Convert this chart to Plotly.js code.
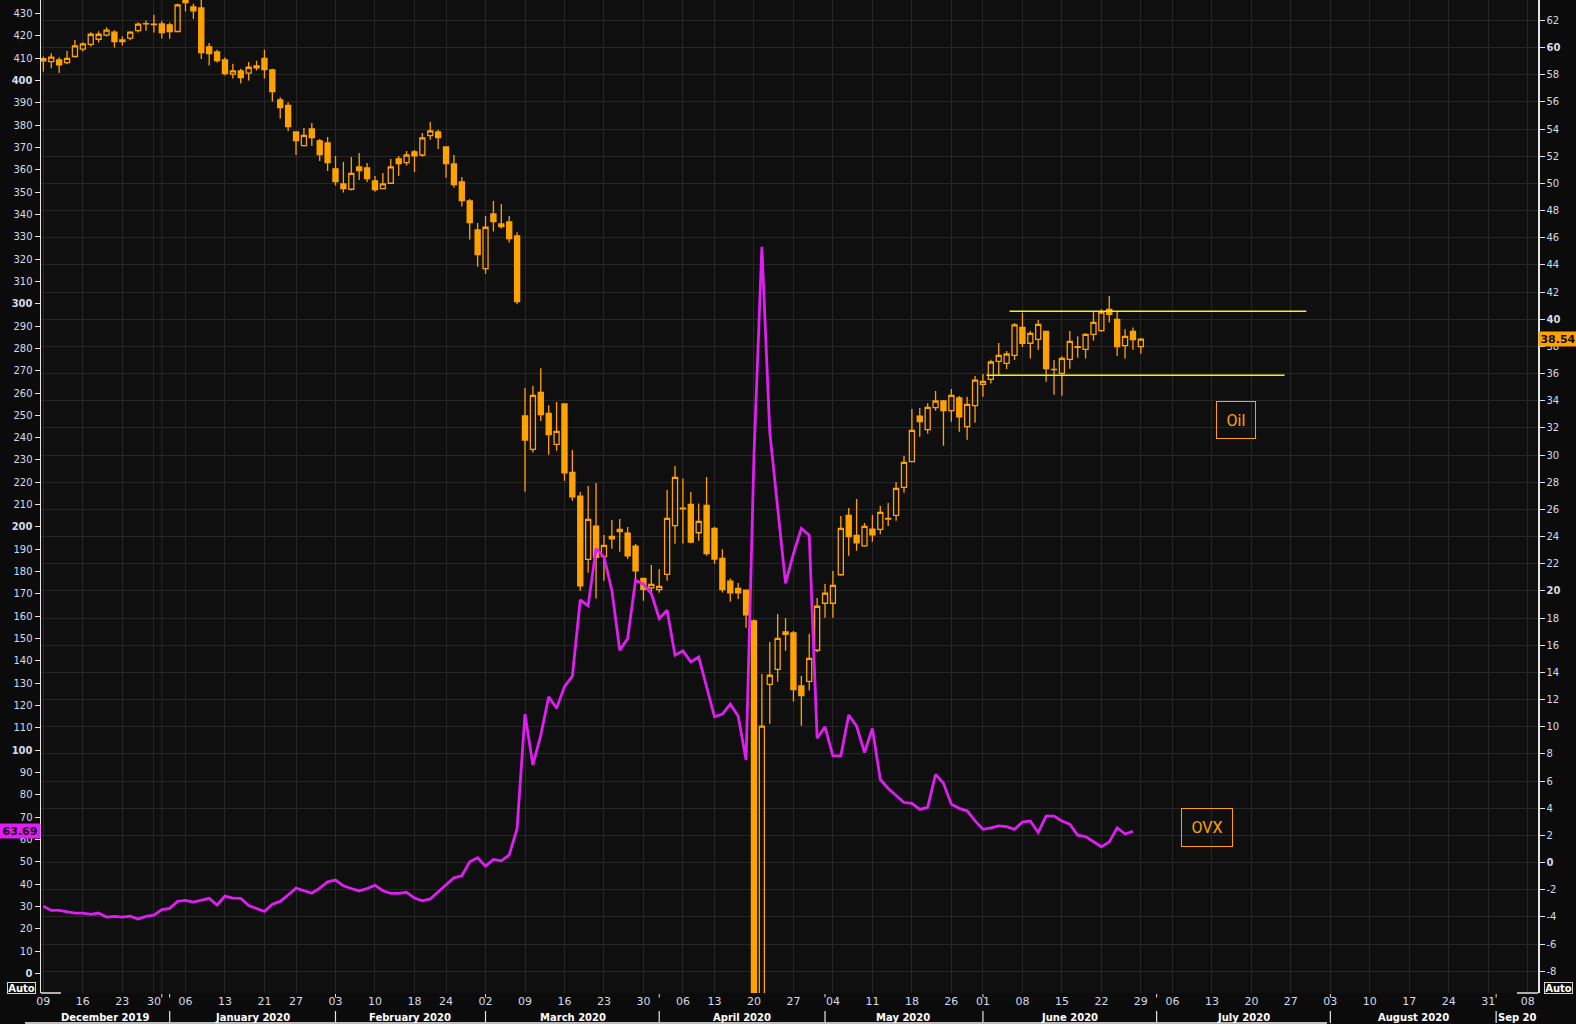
<!DOCTYPE html>
<html><head><meta charset="utf-8">
<script src="https://cdn.plot.ly/plotly-3.0.1.min.js"></script>
<style>html,body{margin:0;padding:0;background:#0b0b0b;overflow:hidden}#chart{width:1576px;height:1024px}</style>
</head><body><div id="chart"></div>
<script>
// ---------- DATA ----------
const dates = [
'2019-12-09','2019-12-10','2019-12-11','2019-12-12','2019-12-13','2019-12-16','2019-12-17','2019-12-18','2019-12-19','2019-12-20','2019-12-23','2019-12-24','2019-12-26','2019-12-27','2019-12-30','2019-12-31',
'2020-01-02','2020-01-03','2020-01-06','2020-01-07','2020-01-08','2020-01-09','2020-01-10','2020-01-13','2020-01-14','2020-01-15','2020-01-16','2020-01-17','2020-01-21','2020-01-22','2020-01-23','2020-01-24','2020-01-27','2020-01-28','2020-01-29','2020-01-30','2020-01-31',
'2020-02-03','2020-02-04','2020-02-05','2020-02-06','2020-02-07','2020-02-10','2020-02-11','2020-02-12','2020-02-13','2020-02-14','2020-02-18','2020-02-19','2020-02-20','2020-02-21','2020-02-24','2020-02-25','2020-02-26','2020-02-27','2020-02-28',
'2020-03-02','2020-03-03','2020-03-04','2020-03-05','2020-03-06','2020-03-09','2020-03-10','2020-03-11','2020-03-12','2020-03-13','2020-03-16','2020-03-17','2020-03-18','2020-03-19','2020-03-20','2020-03-23','2020-03-24','2020-03-25','2020-03-26','2020-03-27','2020-03-30','2020-03-31',
'2020-04-01','2020-04-02','2020-04-03','2020-04-06','2020-04-07','2020-04-08','2020-04-09','2020-04-13','2020-04-14','2020-04-15','2020-04-16','2020-04-17','2020-04-20','2020-04-21','2020-04-22','2020-04-23','2020-04-24','2020-04-27','2020-04-28','2020-04-29','2020-04-30',
'2020-05-01','2020-05-04','2020-05-05','2020-05-06','2020-05-07','2020-05-08','2020-05-11','2020-05-12','2020-05-13','2020-05-14','2020-05-15','2020-05-18','2020-05-19','2020-05-20','2020-05-21','2020-05-22','2020-05-26','2020-05-27','2020-05-28','2020-05-29',
'2020-06-01','2020-06-02','2020-06-03','2020-06-04','2020-06-05','2020-06-08','2020-06-09','2020-06-10','2020-06-11','2020-06-12','2020-06-15','2020-06-16','2020-06-17','2020-06-18','2020-06-19','2020-06-22','2020-06-23','2020-06-24','2020-06-25','2020-06-26','2020-06-29'
];
const oilOpen = [
59.19,58.97,59.09,58.89,59.34,59.88,60.24,60.61,60.91,61.13,60.56,60.69,61.25,61.74,61.72,61.74,
61.67,61.18,63.71,62.99,62.92,60.05,59.68,59.09,58.04,58.28,58.11,58.65,59.21,58.35,56.15,55.75,53.79,52.78,54.01,53.13,52.98,
51.06,49.96,49.57,51.21,51.14,50.18,49.61,50.01,51.80,51.53,52.32,52.09,53.52,53.79,52.68,51.43,50.11,48.71,46.57,
43.72,47.75,47.01,47.16,46.13,32.88,30.42,34.62,33.07,30.79,33.76,28.73,26.98,22.32,24.77,22.52,23.84,24.36,24.26,23.30,20.92,20.23,
20.09,21.21,24.80,26.10,26.37,24.28,26.30,24.60,22.39,20.72,20.18,20.06,17.79,-14.00,13.12,14.23,16.81,16.90,13.00,13.34,15.63,
19.09,19.09,21.19,25.56,24.08,23.32,24.55,24.53,25.29,25.56,27.62,29.51,32.87,31.87,33.49,33.98,33.27,34.20,32.09,33.64,
35.21,35.57,36.90,36.75,37.34,39.40,38.23,38.52,39.11,36.31,36.02,37.05,37.98,37.78,38.89,39.16,40.73,39.99,38.05,39.11,37.98
];
const oilHigh = [
59.34,59.58,59.29,59.75,60.56,60.39,61.13,61.20,61.50,61.28,60.81,61.20,61.87,61.99,62.41,61.96,
61.84,63.25,64.72,63.22,64.00,60.34,59.83,59.29,58.80,58.43,58.94,59.02,59.83,58.43,56.34,55.97,53.81,54.08,54.45,53.27,53.42,
52.02,51.58,51.95,52.24,51.50,50.55,50.77,51.80,52.02,52.39,52.46,53.71,54.52,53.94,52.71,52.09,50.47,48.85,47.09,
47.60,48.71,48.49,47.60,46.40,34.94,35.09,36.39,33.66,33.91,33.78,30.37,27.28,27.72,27.94,24.11,25.22,25.29,24.70,23.45,20.94,21.90,
21.61,27.43,29.19,28.28,27.28,26.44,28.38,24.73,23.06,20.92,20.58,20.09,17.90,13.88,16.24,18.30,18.01,17.05,13.74,16.83,19.48,
20.51,21.47,25.51,26.10,26.76,24.99,25.58,26.25,26.47,28.01,29.93,33.39,33.46,33.81,34.71,34.05,34.86,34.35,34.30,35.82,
35.97,37.02,38.25,37.66,39.72,40.48,39.13,39.94,39.13,37.00,37.27,39.13,38.74,38.96,40.56,40.73,41.71,40.53,39.26,39.40,38.62
];
const oilLow = [
58.23,58.48,58.13,58.77,59.26,59.70,60.07,60.37,60.81,60.00,60.15,60.54,61.10,61.23,61.10,60.66,
60.64,61.18,62.65,62.11,59.16,58.67,58.89,57.94,57.72,57.35,57.57,58.31,57.72,56.02,54.77,53.86,52.09,52.71,52.76,51.65,50.92,
49.84,49.32,49.47,50.25,50.11,49.39,49.57,49.96,50.55,51.31,50.84,51.97,53.22,52.54,50.42,49.69,48.29,45.86,43.87,
43.35,46.45,46.67,45.64,41.10,27.30,30.18,32.51,30.03,30.32,28.11,26.64,20.01,21.34,19.45,20.75,23.10,22.88,22.34,20.85,19.27,19.94,
19.86,20.75,23.47,23.47,23.50,23.69,22.59,22.00,19.89,19.20,19.40,17.29,-40.32,-16.74,10.23,13.32,15.60,11.85,10.08,12.66,15.48,
18.03,18.03,21.11,22.59,22.95,23.25,23.62,24.18,24.77,25.17,27.23,29.51,31.35,31.57,33.27,30.69,32.46,31.72,31.13,32.38,
34.30,35.26,35.84,36.34,37.00,37.96,37.10,37.76,35.40,34.44,34.37,36.36,37.17,37.10,38.42,39.08,39.75,37.29,37.10,37.76,37.46
];
const oilClose = [
59.02,59.29,58.72,59.21,60.12,60.27,60.98,60.98,61.28,60.44,60.44,61.13,61.72,61.75,61.69,61.10,
61.18,63.14,63.31,62.70,59.63,59.56,59.04,58.08,58.28,57.79,58.55,58.50,58.38,56.76,55.58,54.18,53.15,53.54,53.37,52.12,51.53,
50.13,49.61,50.74,50.94,50.35,49.54,49.96,51.21,51.46,52.09,52.02,53.35,53.86,53.37,51.46,49.91,48.73,47.11,44.75,
46.77,47.18,46.82,45.93,41.29,31.11,34.40,32.97,31.50,31.75,28.70,26.93,20.38,25.27,22.47,23.35,24.01,24.53,22.59,21.48,20.11,20.48,
20.33,25.34,28.36,26.05,23.60,25.12,22.74,22.34,20.09,19.86,19.86,18.24,-37.63,10.05,13.79,16.51,16.98,12.73,12.29,15.04,18.87,
19.83,20.41,24.60,23.99,23.54,24.75,24.13,25.78,25.34,27.55,29.46,31.82,32.46,33.51,33.98,33.27,34.40,32.82,33.73,35.52,
35.43,36.85,37.34,37.44,39.58,38.23,38.96,39.62,36.36,36.29,37.12,38.37,37.93,38.89,39.77,40.53,40.36,37.98,38.74,38.50,38.54
];
const ovxValues = [
30.2,28.3,28.3,27.8,27.1,27.1,26.5,27.1,25.3,25.6,25.3,25.7,24.4,25.6,26.2,28.7,
29.2,32.3,32.8,32.0,32.9,33.7,30.7,34.7,33.8,33.7,30.5,29.2,27.8,31.1,32.3,35.2,38.3,37.1,36.0,38.3,41.1,
41.9,39.3,38.1,37.0,38.1,39.5,37.1,35.9,35.9,36.4,33.8,32.6,33.4,36.6,39.6,42.9,43.8,50.1,51.9,
48.1,51.1,50.5,53.1,65.0,116.2,93.4,106.8,124.0,118.8,128.5,133.2,167.3,164.7,190.3,186.6,171.7,144.8,150.0,176.2,174.4,170.2,
159.0,162.7,142.6,144.5,139.6,141.8,129.0,115.0,116.2,120.7,115.3,95.6,232.0,325.5,242.6,209.0,174.7,188.1,199.3,196.3,105.4,
110.5,97.5,97.5,115.8,110.8,99.0,109.8,86.9,82.9,79.9,76.6,76.2,73.5,74.4,89.2,85.2,75.8,74.0,72.9,68.4,
64.6,65.3,66.1,65.8,64.6,67.8,68.3,63.2,70.5,70.5,68.3,66.9,62.0,61.3,59.0,56.8,59.0,65.3,62.5,63.69
];
const ovxLast = 63.69;
const oilLast = 38.54;
const holidays = ['2019-12-25','2020-01-01','2020-01-20','2020-02-17','2020-04-10','2020-05-25','2020-07-03','2020-09-07'];
const weekTicks = ['2019-12-09','2019-12-16','2019-12-23','2019-12-30','2020-01-06','2020-01-13','2020-01-21','2020-01-27','2020-02-03','2020-02-10','2020-02-18','2020-02-24','2020-03-02','2020-03-09','2020-03-16','2020-03-23','2020-03-30','2020-04-06','2020-04-13','2020-04-20','2020-04-27','2020-05-04','2020-05-11','2020-05-18','2020-05-26','2020-06-01','2020-06-08','2020-06-15','2020-06-22','2020-06-29','2020-07-06','2020-07-13','2020-07-20','2020-07-27','2020-08-03','2020-08-10','2020-08-17','2020-08-24','2020-08-31','2020-09-08'];
const weekLabels = ['09','16','23','30','06','13','21','27','03','10','18','24','02','09','16','23','30','06','13','20','27','04','11','18','26','01','08','15','22','29','06','13','20','27','03','10','17','24','31','08'];
const monthStarts = ['2020-01-02','2020-02-03','2020-03-02','2020-04-01','2020-05-01','2020-06-01','2020-07-01','2020-08-03','2020-09-01'];
const monthLabels = ['December 2019','January 2020','February 2020','March 2020','April 2020','May 2020','June 2020','July 2020','August 2020','Sep 20'];
const ovxTicks = [0,10,20,30,40,50,60,70,80,90,100,110,120,130,140,150,160,170,180,190,200,210,220,230,240,250,260,270,280,290,300,310,320,330,340,350,360,370,380,390,400,410,420,430];
const oilTicks = [-8,-6,-4,-2,0,2,4,6,8,10,12,14,16,18,20,22,24,26,28,30,32,34,36,38,40,42,44,46,48,50,52,54,56,58,60,62];
const resistance = {start:'2020-06-04 20:50', end:'2020-07-29 11:00', level:40.59};
const support = {start:'2020-06-01 22:50', end:'2020-07-24 16:50', level:35.87};

// ---------- STYLE ----------
const ORANGE = '#ffa200', MAGENTA = '#e01ef2', YELLOW = '#f2f21e';
const TXT = '#d3dbe9', GRID = '#272727', AXL = '#e6e6e6';
const PLOT_W = 1497, PLOT_H = 993, ML = 41;
const px = v => (v - ML) / PLOT_W;
const py = v => 1 - v / PLOT_H;
const noon = d => d + ' 12:00';

const boldIf = (v, set) => set.includes(v) ? '<b>' + v + '</b>' : String(v);

const candles = {
  type: 'candlestick',
  x: dates.map(noon), open: oilOpen, high: oilHigh, low: oilLow, close: oilClose,
  xaxis: 'x', yaxis: 'y',
  increasing: {line: {color: ORANGE, width: 1.3}, fillcolor: 'rgba(0,0,0,0)'},
  decreasing: {line: {color: ORANGE, width: 1.3}, fillcolor: ORANGE},
  whiskerwidth: 0, hoverinfo: 'skip'
};
const ovx = {
  type: 'scatter', mode: 'lines',
  x: dates.slice(0, ovxValues.length).map(noon), y: ovxValues,
  xaxis: 'x', yaxis: 'y2',
  line: {color: MAGENTA, width: 2.8}, hoverinfo: 'skip'
};

const shapes = [];
shapes.push({type:'line', xref:'x', yref:'paper', x0:noon('2019-12-31'), x1:noon('2019-12-31'), y0:0, y1:1, line:{color:GRID, width:1}, layer:'below'});
monthStarts.forEach(d => {
  shapes.push({type:'line', xref:'x', yref:'paper', x0:noon(d), x1:noon(d), y0:py(1011), y1:py(1023), line:{color:AXL, width:1.2}});
  shapes.push({type:'line', xref:'x', yref:'paper', x0:noon(d), x1:noon(d), y0:py(994), y1:py(997.5), line:{color:AXL, width:1}});
});
shapes.push({type:'line', xref:'x', yref:'paper', x0:noon('2019-12-31'), x1:noon('2019-12-31'), y0:py(994), y1:py(997.5), line:{color:AXL, width:1}});
shapes.push({type:'line', xref:'paper', yref:'paper', x0:0, x1:px(61), y0:0, y1:0, line:{color:AXL, width:1.5}});
shapes.push({type:'line', xref:'paper', yref:'paper', x0:px(1517), x1:1, y0:0, y1:0, line:{color:AXL, width:1.5}});
shapes.push({type:'rect', xref:'paper', yref:'paper', x0:px(25), x1:px(1327), y0:py(1022), y1:py(1024.5), fillcolor:'#bdbdbd', line:{width:0}});
[resistance, support].forEach(l => shapes.push({type:'line', xref:'x', yref:'y', x0:l.start, x1:l.end, y0:l.level, y1:l.level, line:{color:YELLOW, width:1.5}}));

const annotations = [];
const sepPx = [ML, 169.3, 335, 485.7, 659.3, 824, 982, 1156.7, 1330.7, 1496.3, ML + PLOT_W];
monthLabels.forEach((m, i) => annotations.push({
  text: '<b>' + m + '</b>', xref:'paper', yref:'paper', x: px((sepPx[i] + sepPx[i+1]) / 2), y: py(1017),
  xanchor:'center', yanchor:'middle', showarrow:false, font:{size:10, color:'#ffffff'}
}));
annotations.push({text:'Oil', xref:'paper', yref:'paper', x:px(1236), y:py(420.4), xanchor:'center', yanchor:'middle', showarrow:false,
  font:{family:'Roboto, sans-serif', size:16, color:ORANGE}, bordercolor:ORANGE, borderwidth:1, borderpad:0, width:38, height:36});
annotations.push({text:'OVX', xref:'paper', yref:'paper', x:px(1207), y:py(827.3), xanchor:'center', yanchor:'middle', showarrow:false,
  font:{family:'Roboto, sans-serif', size:16, color:ORANGE}, bordercolor:ORANGE, borderwidth:1, borderpad:0, width:50, height:37});
annotations.push({text:'<b>' + ovxLast.toFixed(2) + '</b>', xref:'paper', yref:'y2', x:0, y:ovxLast, xanchor:'right', yanchor:'middle',
  showarrow:false, bgcolor:MAGENTA, font:{size:11, color:'#1a001c'}, width:38, height:12, borderpad:1});
annotations.push({text:'<b>' + oilLast.toFixed(2) + '</b>', xref:'paper', yref:'y', x:1, y:oilLast, xanchor:'left', yanchor:'middle',
  showarrow:false, bgcolor:ORANGE, font:{size:11, color:'#140a00'}, width:36, height:12, borderpad:1});
annotations.push({text:'<b>Auto</b>', xref:'paper', yref:'paper', x:px(21.5), y:py(987.5), xanchor:'center', yanchor:'middle', showarrow:false,
  font:{size:10, color:'#ffffff'}, bordercolor:'#d8d8d8', borderwidth:1, borderpad:0, width:27, height:10, bgcolor:'#0b0b0b'});
annotations.push({text:'<b>Auto</b>', xref:'paper', yref:'paper', x:px(1558.5), y:py(987.5), xanchor:'center', yanchor:'middle', showarrow:false,
  font:{size:10, color:'#ffffff'}, bordercolor:'#d8d8d8', borderwidth:1, borderpad:0, width:27, height:10, bgcolor:'#0b0b0b'});
annotations.push({text:'<b>bbl</b>', xref:'paper', yref:'paper', x:px(1541), y:py(5), xanchor:'left', yanchor:'bottom', showarrow:false,
  font:{size:11, color:TXT}});

const layout = {
  width: 1576, height: 1024,
  margin: {l: ML, r: 1576 - ML - PLOT_W, t: 0, b: 1024 - PLOT_H, pad: 0},
  paper_bgcolor: '#0b0b0b', plot_bgcolor: '#0f0f0f',
  font: {family: 'DejaVu Sans, sans-serif', color: TXT, size: 10},
  showlegend: false, hovermode: false,
  boxgap: 0.2, boxgroupgap: 0.2,
  xaxis: {
    type: 'date', range: ['2019-12-09 04:48', '2020-09-09 19:12'],
    rangebreaks: [{bounds: ['sat', 'mon']}, {values: holidays}],
    rangeslider: {visible: false},
    tickmode: 'array', tickvals: weekTicks.map(noon), ticktext: weekLabels,
    showgrid: true, gridcolor: GRID, gridwidth: 1,
    ticks: '', showline: false, zeroline: false,
    tickfont: {size: 11, color: TXT}, fixedrange: true
  },
  yaxis: {
    side: 'right', range: [-9.6, 63.5],
    tickmode: 'array', tickvals: oilTicks, ticktext: oilTicks.map(v => boldIf(v, [0, 20, 40, 60])),
    showgrid: true, gridcolor: GRID, gridwidth: 1, zeroline: false,
    ticks: 'outside', ticklen: 5, tickcolor: AXL, tickwidth: 1,
    showline: true, linecolor: AXL, linewidth: 1.5,
    tickfont: {size: 10, color: TXT}, fixedrange: true
  },
  yaxis2: {
    overlaying: 'y', side: 'left', range: [-8.7, 436],
    tickmode: 'array', tickvals: ovxTicks, ticktext: ovxTicks.map(v => boldIf(v, [0, 100, 200, 300, 400])),
    showgrid: false, zeroline: false,
    ticks: 'outside', ticklen: 5, tickcolor: AXL, tickwidth: 1,
    showline: true, linecolor: AXL, linewidth: 1.5,
    tickfont: {size: 10, color: TXT}, fixedrange: true
  },
  shapes: shapes, annotations: annotations
};

Plotly.newPlot('chart', [candles, ovx], layout, {staticPlot: true, displayModeBar: false});
</script>
</body></html>
